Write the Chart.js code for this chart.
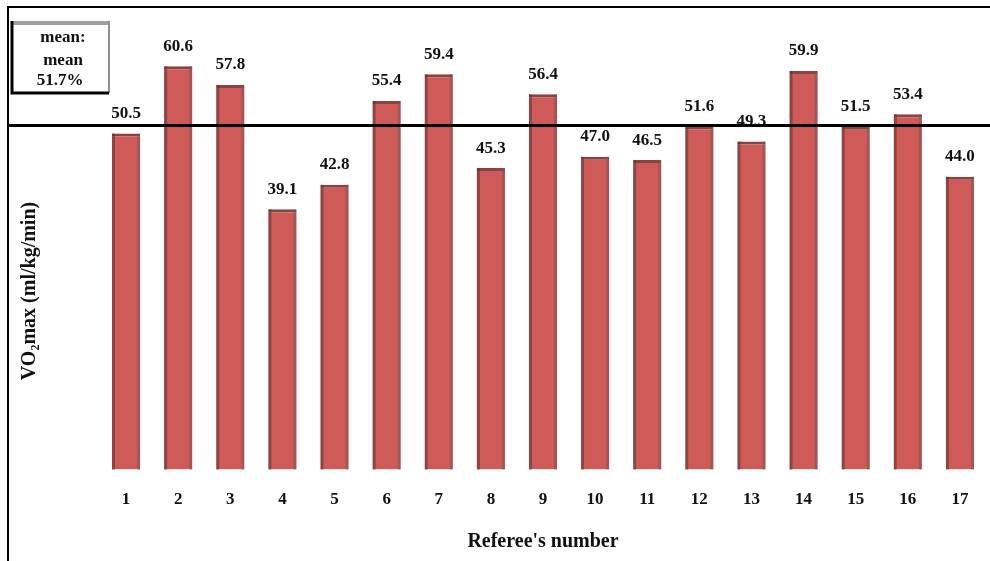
<!DOCTYPE html>
<html>
<head>
<meta charset="utf-8">
<script src="https://cdn.jsdelivr.net/npm/chart.js@4/dist/chart.umd.min.js"></script>
<style>
  html, body { margin: 0; padding: 0; background: #fff; }
  #wrap { width: 990px; height: 561px; position: relative; }
</style>
</head>
<body>
<div id="wrap"><canvas id="c" width="990" height="561"></canvas></div>
<script>
// Referee numbers and their VO2max values
const referees = ['1', '2', '3', '4', '5', '6', '7', '8', '9', '10', '11', '12', '13', '14', '15', '16', '17'];
const vo2max = [50.5, 60.6, 57.8, 39.1, 42.8, 55.4, 59.4, 45.3, 56.4, 47.0, 46.5, 51.6, 49.3, 59.9, 51.5, 53.4, 44.0];
const meanValue = 51.7;
const meanLines = ['mean:', 'mean', '51.7%'];
const yTitle = 'VO₂max (ml/kg/min)';

const serif = '"Liberation Serif", "DejaVu Serif", serif';

// Outer frame, mean line, y title and the mean legend box
const framePlugin = {
  id: 'frame',
  afterDraw(chart) {
    const ctx = chart.ctx;
    const y = chart.scales.y.getPixelForValue(meanValue);
    ctx.save();
    ctx.strokeStyle = '#000';
    ctx.lineWidth = 2;
    ctx.beginPath();
    ctx.moveTo(8, 561);
    ctx.lineTo(8, 7);
    ctx.lineTo(990, 7);
    ctx.stroke();
    // mean line across the whole figure
    ctx.lineWidth = 3;
    ctx.beginPath();
    ctx.moveTo(8, y);
    ctx.lineTo(990, y);
    ctx.stroke();
    // y axis title
    ctx.save();
    ctx.translate(30, 291);
    ctx.rotate(-Math.PI / 2);
    ctx.fillStyle = '#111';
    ctx.font = 'bold 20px ' + serif;
    ctx.textAlign = 'center';
    ctx.textBaseline = 'middle';
    ctx.fillText(yTitle, 0, 0);
    ctx.restore();
    // legend box
    const bx = 11, by = 21, bw = 98, bh = 72;
    ctx.fillStyle = '#fff';
    ctx.fillRect(bx, by, bw, bh);
    ctx.lineWidth = 4;
    ctx.strokeStyle = '#a0a0a0';
    ctx.beginPath(); ctx.moveTo(bx, by + 2); ctx.lineTo(bx + bw, by + 2); ctx.stroke();
    ctx.lineWidth = 2;
    ctx.strokeStyle = '#909090';
    ctx.beginPath(); ctx.moveTo(bx + bw, by); ctx.lineTo(bx + bw, by + bh); ctx.stroke();
    ctx.strokeStyle = '#000';
    ctx.lineWidth = 3;
    ctx.beginPath(); ctx.moveTo(bx + 1, by); ctx.lineTo(bx + 1, by + bh); ctx.lineTo(bx + bw, by + bh); ctx.stroke();
    ctx.fillStyle = '#111';
    ctx.font = 'bold 17px ' + serif;
    ctx.textAlign = 'center';
    ctx.textBaseline = 'middle';
    ctx.fillText(meanLines[0], bx + bw / 2 + 3, by + 17);
    ctx.fillText(meanLines[1], bx + bw / 2 + 3, by + 40);
    ctx.fillText(meanLines[2], bx + bw / 2, by + 60);
    ctx.restore();
  }
};

// Edge shading on the bars and value labels above them
const valueLabels = {
  id: 'valueLabels',
  afterDatasetsDraw(chart) {
    const ctx = chart.ctx;
    const meta = chart.getDatasetMeta(0);
    ctx.save();
    meta.data.forEach((bar) => {
      const l = bar.x - bar.width / 2, r = bar.x + bar.width / 2;
      const h = bar.base - bar.y;
      ctx.fillStyle = 'rgba(110,40,40,0.55)';
      ctx.fillRect(l, bar.y, 3, h);
      ctx.fillStyle = 'rgba(110,90,90,0.55)';
      ctx.fillRect(r - 3, bar.y, 3, h);
    });
    ctx.fillStyle = '#111';
    ctx.font = 'bold 17px ' + serif;
    ctx.textAlign = 'center';
    ctx.textBaseline = 'middle';
    meta.data.forEach((bar, i) => {
      ctx.fillText(vo2max[i].toFixed(1), bar.x, bar.y - 20);
    });
    ctx.restore();
  }
};

const ctx = document.getElementById('c').getContext('2d');

new Chart(ctx, {
  type: 'bar',
  data: {
    labels: referees,
    datasets: [{
      data: vo2max,
      backgroundColor: '#cf5b58',
      borderColor: '#8a4341',
      borderWidth: { top: 3, left: 0, right: 0, bottom: 0 },
      borderSkipped: 'bottom',
      barPercentage: 0.54,
      categoryPercentage: 1.0
    }]
  },
  options: {
    responsive: false,
    animation: false,
    events: [],
    layout: { padding: { left: 100, right: 4, top: 37, bottom: 7 } },
    plugins: {
      legend: { display: false },
      tooltip: { enabled: false },
      title: { display: false }
    },
    scales: {
      x: {
        grid: { display: false },
        border: { display: false },
        ticks: { color: '#111', font: { family: serif, size: 17, weight: 'bold' }, padding: 12, maxRotation: 0 },
        title: { display: true, text: "Referee's number", color: '#111', font: { family: serif, size: 20, weight: 'bold' }, padding: { top: 8, bottom: 0 } }
      },
      y: {
        display: false,
        min: 0,
        max: 65
      }
    }
  },
  plugins: [valueLabels, framePlugin]
});
</script>
</body>
</html>
